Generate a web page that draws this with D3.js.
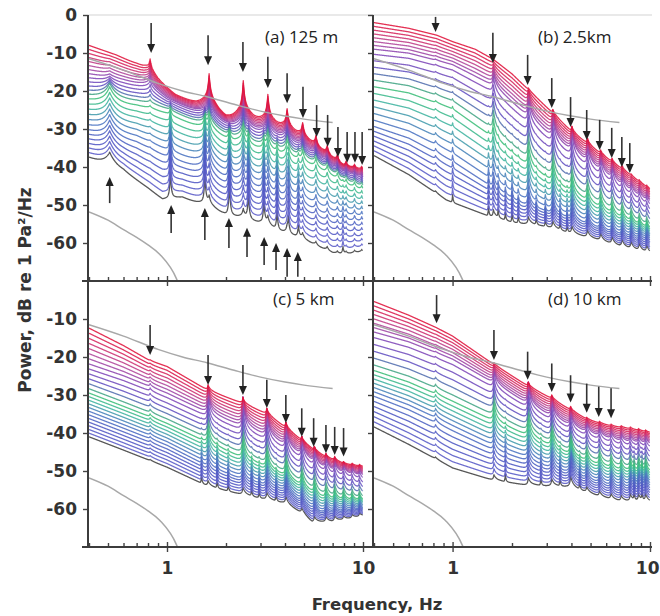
<!DOCTYPE html>
<html>
<head>
<meta charset="utf-8">
<script src="https://cdn.jsdelivr.net/npm/d3@7"></script>
<style>
  body { margin: 0; background: #fff; }
  svg { display: block; }
</style>
</head>
<body>
<svg id="chart" width="660" height="616"></svg>
<script>
// ---- shared values ----
var nCurves = 26;
var keyT = [0, 0.3, 0.5, 0.75, 1];   // position of each key curve in the stack (top .. bottom)
var freqTicks = [0.4, 0.5, 0.6, 0.7, 0.8, 0.9, 1, 2, 3, 4, 5, 6, 7, 8, 9, 10];
var dbTicksTop = [0, -10, -20, -30, -40, -50, -60];
var dbTicksBottom = [-10, -20, -30, -40, -50, -60];

// gray reference curves (same in every panel)
var grayHi = [[0.4,-11.5],[0.6,-14.5],[0.9,-18],[1.2,-20],[1.6,-21.5],[2.2,-23.5],[3,-25.3],[4,-26.6],[5,-27.4],[7,-28.3]];
var grayLo = [[0.4,-51.8],[0.5,-54],[0.6,-56.5],[0.7,-58.5],[0.8,-60.5],[0.92,-63],[1.12,-69.5],[1.15,-71]];

// ---- (a) 125 m ----
var aTop    = [[0.4,-8],[0.55,-10.5],[0.7,-13],[0.78,-14.5],[0.9,-17.5],[1.1,-21],[1.42,-23.5],[1.64,-24.5],[2.0,-27.5],[2.45,-28],[2.9,-29],[3.3,-30],[4.1,-31.5],[5,-34],[6,-37],[7,-39.5],[8,-41.5],[10,-42]];
var aUpper  = [[0.4,-16],[0.6,-17.5],[0.8,-19],[1.0,-22],[1.42,-25.5],[2,-29],[2.9,-31.5],[4,-34],[5,-37],[6,-39.5],[7,-42],[8,-43.5],[10,-44.5]];
var aMid    = [[0.4,-21.5],[0.7,-23],[1.0,-25],[1.5,-29],[2.2,-33],[3,-35.5],[4,-37.5],[5,-39.5],[6,-41.5],[7,-43.5],[8,-45.5],[10,-47]];
var aLower  = [[0.4,-30],[0.7,-33],[1.0,-37],[1.5,-40],[2,-43],[3,-46.5],[4,-49],[5,-51],[6,-53],[7,-54.5],[8,-55.5],[10,-55.5]];
var aBottom = [[0.4,-37.5],[0.6,-41],[0.8,-45.5],[0.95,-48.5],[1.2,-48],[1.5,-50],[2.0,-53],[2.5,-54.5],[3,-55.5],[3.6,-57.5],[4.1,-58.5],[5,-60],[6,-62],[7,-63.5],[8,-64],[10,-63]];
var aHarmF = [0.82, 1.64, 2.45, 3.27, 4.1, 4.92, 5.75, 6.57, 7.4, 8.2, 9.05, 9.85];
var aHarmH = [
  [4, 9, 10.5, 8.5, 6, 4.5, 3.5, 3, 2.5, 2, 1.5, 1.5],
  [3, 7, 8, 7, 6, 5, 4, 3.5, 3, 2.5, 2, 2],
  [1, 5, 6, 6, 5, 4, 3.5, 3, 2.5, 2, 2, 2],
  [0.5, 6, 6, 5, 4, 3, 3, 2.5, 2, 2, 2, 2],
  [0, 3, 3, 3, 2, 2, 1.5, 1.5, 1, 1, 1, 1]
];
var aLowF = [1.04, 1.56, 2.08, 2.6, 3.12, 3.64, 4.16, 4.68, 7.9];
var aLowH = [
  [0, 0, 0, 0, 0, 0, 0, 0, 0],
  [0, 0, 0, 0, 0, 0, 0, 0, 0],
  [1.5, 3, 3, 2, 2, 1.5, 1, 1, 0.5],
  [9, 10, 10, 8, 7, 6, 5, 4, 2],
  [7, 8, 9, 7, 6, 5, 4, 3, 2]
];
var aBumpF = [0.51];
var aBumpH = [[0], [1], [4], [4], [3.5]];
var aDown = [[0.83,-2.1,-10],[1.62,-5.3,-13.2],[2.44,-7.1,-15],[3.27,-11,-19.2],[4.1,-15.3,-23.2],[4.94,-18.9,-27.1],[5.8,-23.7,-32.1],[6.6,-26.3,-34.7],[7.45,-29.5,-37.4],[8.3,-30.8,-38.9],[9.1,-30.8,-38.9],[9.9,-30.8,-39.5]];
var aUp = [[0.51,-49.5,-42.6],[1.05,-57.4,-50],[1.56,-59.2,-50.8],[2.07,-61.3,-53.4],[2.56,-63.7,-56],[3.13,-65.8,-58.4],[3.6,-67.1,-60],[4.1,-68.9,-61.3],[4.65,-68.9,-62.4]];

// ---- (b) 2.5km ----
var bTop    = [[0.4,-2],[0.6,-3.5],[0.83,-5.3],[1.0,-7],[1.3,-9],[1.6,-11.6],[2,-15.5],[2.4,-19.5],[3.18,-25.6],[3.96,-30.5],[4.78,-33.8],[5.56,-36.4],[7,-40.2],[10,-46]];
var bUpper  = [[0.4,-9.5],[0.6,-10.5],[1.0,-13.5],[1.6,-19],[2.4,-27],[3.2,-32.5],[4,-36],[5,-39.5],[7,-45],[10,-50]];
var bMid    = [[0.4,-18],[0.6,-19.5],[1.0,-23.5],[1.6,-31],[2.4,-38.5],[3.2,-43],[4,-46],[5,-49],[7,-53],[10,-56.5]];
var bLower  = [[0.4,-29],[0.6,-32],[1.0,-38],[1.6,-45],[2.4,-50],[3.2,-52],[4,-53.5],[5,-55.5],[7,-58],[10,-60]];
var bBottom = [[0.4,-37],[0.6,-42],[0.93,-48.7],[1.54,-53],[2,-54.5],[3,-55.7],[4,-57.5],[5.4,-59.2],[7,-61],[10,-63]];
var bHarmF = [0.82, 1.61, 2.42, 3.22, 4.02, 4.82, 5.62, 6.42, 7.22, 8.02, 8.82, 9.62];
var bHarmH = [
  [0, 0, 0.5, 1, 1.5, 1.5, 1, 1, 1, 0.5, 0.5, 0.5],
  [0.3, 4, 6, 7, 6, 5, 4, 4, 3, 2, 2, 2],
  [0.5, 5, 6, 6, 5, 4, 3.5, 3, 3, 2.5, 2, 2],
  [1, 4, 5, 5, 5, 4, 3.5, 3, 3, 3, 3, 3],
  [0.5, 2, 2, 2, 2, 2, 2, 2, 2, 2, 2, 2]
];
var bLowF = [1.0, 1.52, 1.7, 1.85, 2.0, 2.15, 2.65, 2.95, 3.5, 3.8];
var bLowH = [
  [0, 0, 0, 0, 0, 0, 0, 0, 0, 0],
  [0, 0, 0, 0, 0, 0, 0, 0, 0, 0],
  [0.5, 0.5, 0.5, 0.5, 0.5, 0.5, 0.5, 0.5, 0.5, 0.5],
  [1.5, 2.5, 1.5, 1.5, 2.5, 1.5, 1.5, 1.5, 1.5, 1.5],
  [2, 2.5, 2, 2, 2.5, 2, 2, 2, 2, 2]
];
var bDown = [[0.82,-0.5,-4.5],[1.6,-4.7,-12.6],[2.4,-10.5,-18.4],[3.18,-16.6,-24.5],[3.96,-21.6,-29.5],[4.78,-25,-32.9],[5.56,-27.6,-35.5],[6.4,-29.7,-37.6],[7.2,-32.1,-40],[7.9,-33.7,-41.6]];

// ---- (c) 5 km ----
var cTop    = [[0.4,-12.4],[0.6,-17],[0.82,-21],[1.0,-22.5],[1.62,-28.8],[2.44,-32.2],[3.23,-35],[4,-38.5],[4.87,-42],[5.6,-44.5],[6.5,-46.5],[8,-48.2],[10,-49]];
var cUpper  = [[0.4,-22.5],[0.6,-25.5],[1.0,-30],[1.62,-35],[2.44,-38.5],[3.23,-41],[4,-43.5],[5,-46.5],[6,-49],[7,-50.5],[10,-52]];
var cMid    = [[0.4,-29],[0.6,-32.5],[1,-37],[1.62,-42],[2.44,-46],[3.23,-48.5],[4,-51],[5,-54],[6,-56.5],[7,-57.5],[10,-58]];
var cLower  = [[0.4,-35],[0.6,-38.5],[1,-43],[1.62,-48.5],[2.44,-52],[3.23,-53.5],[4,-55],[5,-58.5],[6,-61],[7,-61],[10,-60.5]];
var cBottom = [[0.4,-41],[0.6,-44.5],[1.0,-49],[1.62,-54],[2.47,-56.3],[4,-58.5],[5,-61.5],[5.5,-63.5],[7,-63.5],[10,-62]];
var cHarmF = [0.82, 1.62, 2.44, 3.23, 4.04, 4.87, 5.65, 6.47, 7.17, 7.96, 8.8, 9.6];
var cHarmH = [
  [0.3, 1.5, 1.5, 1.5, 1.5, 1, 1, 1, 1, 0.5, 0.5, 0.5],
  [0.8, 6, 8, 7, 6, 5, 4, 3.5, 3, 2.5, 2, 2],
  [0.8, 5, 6, 5, 5, 4, 3.5, 3, 3, 2.5, 2, 2],
  [0.6, 3, 4, 4, 4, 3, 3, 2.5, 2.5, 2, 2, 2],
  [0.3, 1.5, 2, 2, 2, 1.5, 1.5, 1.5, 1.5, 1, 1, 1]
];
var cLowF = [1.5, 1.8, 2.05, 2.7, 2.95, 3.6];
var cLowH = [
  [0, 0, 0, 0, 0, 0],
  [0, 0, 0, 0, 0, 0],
  [0.5, 0.5, 0.5, 0.5, 0.5, 0.5],
  [1.5, 2.5, 1.5, 2.5, 1.5, 1.5],
  [2, 2, 2, 2, 2, 2]
];
var cDown = [[0.82,-11.6,-19.5],[1.62,-19.5,-27.4],[2.44,-22.1,-30],[3.23,-26,-33.4],[4.04,-30,-37.4],[4.87,-33.5,-41],[5.6,-36.1,-43.6],[6.47,-37.9,-45.3],[7.17,-38.4,-45.8],[7.96,-38.7,-46.2]];

// ---- (d) 10 km ----
var dTop    = [[0.4,-5.4],[0.6,-9],[0.83,-12.3],[1.0,-14.5],[1.6,-21.8],[2.4,-27.6],[3.18,-31],[3.96,-34],[4.78,-36.4],[5.5,-37.4],[6.35,-38.2],[8,-39],[10,-40]];
var dUpper  = [[0.4,-14],[0.6,-16.5],[1.0,-21],[1.6,-27],[2.4,-32.5],[3.2,-36],[4,-38.5],[5,-40.5],[7,-42.5],[10,-43.5]];
var dMid    = [[0.4,-23],[0.6,-26],[1.0,-31],[1.6,-36],[2.4,-40],[3.2,-43],[4,-45.5],[5,-47.5],[7,-49.5],[10,-50.5]];
var dLower  = [[0.4,-30],[0.6,-33.5],[1.0,-39],[1.6,-44],[2.4,-47],[3.2,-49],[4,-50.5],[5,-52.5],[7,-54.5],[10,-55]];
var dBottom = [[0.4,-38.4],[0.6,-43],[1.0,-49.2],[1.6,-52.4],[2.37,-53.7],[3.93,-54.2],[5.56,-56.8],[7,-58],[10,-58.4]];
var dHarmF = [0.82, 1.62, 2.42, 3.18, 3.96, 4.78, 5.55, 6.35, 7.15, 7.95, 8.75, 9.5];
var dHarmH = [
  [0, 0.5, 1, 1, 1, 0.5, 0.5, 0.5, 0.5, 0.5, 0.5, 0.5],
  [0.3, 4, 6, 5, 4, 3, 2.5, 2, 2, 2, 2, 2],
  [1, 5, 6, 5, 5, 3, 3, 2.5, 2.5, 3, 3, 3],
  [1.2, 3, 4, 4, 7, 3, 3, 3, 3, 4, 4, 4],
  [0.5, 1.5, 2, 2, 3, 1.5, 1.5, 1.5, 1.5, 2, 2, 2]
];
var dLowF = [1.85, 2.8, 3.5, 4.4, 8.3, 9.1];
var dLowH = [
  [0, 0, 0, 0, 0, 0],
  [0, 0, 0, 0, 0, 0],
  [0.5, 0.5, 0.5, 0.5, 1.5, 1.5],
  [1.5, 1.5, 1.5, 1.5, 3, 3],
  [2, 2, 2, 2, 2, 2]
];
var dDown = [[0.83,-3.7,-11.1],[1.62,-12.9,-20.8],[2.4,-18.6,-26],[3.18,-21.7,-29.2],[3.96,-24.8,-32],[4.78,-27,-34.7],[5.5,-27.8,-35.8],[6.35,-28.2,-36.1]];

// ---- peak shapes: [left width, right width, skirt share, skirt width factor] in log10 units ----
var scallopShape = [0.005, 0.006, 0.6, 7];
var spikeShape   = [0.004, 0.005, 0.15, 5];
var bumpShape    = [0.03, 0.035, 0, 1];
var finShape     = [0.003, 0.01, 0.35, 3.5];
var tickShape    = [0.002, 0.004, 0, 1];

// ---- layout ----
var cols = [{x0: 89, x1: 363}, {x0: 374, x1: 650}];
var rows = [{y0: 15, y1: 281}, {y0: 281, y1: 547}];

var panels = [
  {id: "a", title: "(a) 125 m", col: 0, row: 0, tx: 265, ty: 43,
   keys: [aTop, aUpper, aMid, aLower, aBottom],
   fams: [[aHarmF, aHarmH, scallopShape], [aLowF, aLowH, spikeShape], [aBumpF, aBumpH, bumpShape]],
   arrows: aDown.concat(aUp)},
  {id: "b", title: "(b) 2.5km", col: 1, row: 0, tx: 538, ty: 43,
   keys: [bTop, bUpper, bMid, bLower, bBottom],
   fams: [[bHarmF, bHarmH, finShape], [bLowF, bLowH, tickShape]],
   arrows: bDown},
  {id: "c", title: "(c) 5 km", col: 0, row: 1, tx: 273, ty: 305,
   keys: [cTop, cUpper, cMid, cLower, cBottom],
   fams: [[cHarmF, cHarmH, finShape], [cLowF, cLowH, tickShape]],
   arrows: cDown},
  {id: "d", title: "(d) 10 km", col: 1, row: 1, tx: 548, ty: 305,
   keys: [dTop, dUpper, dMid, dLower, dBottom],
   fams: [[dHarmF, dHarmH, finShape], [dLowF, dLowH, tickShape]],
   arrows: dDown}
];

var colorT = [0, 0.1, 0.2, 0.32, 0.42, 0.5, 0.6, 0.7, 0.85, 0.96, 1];
var colorC = ["#e0143c", "#d42c68", "#b0489c", "#8048b8", "#5c54c4", "#3cc070", "#40b4a0", "#4a78c0", "#5058c4", "#5c5cc8", "#404040"];
var curveColor = d3.scaleLinear().domain(colorT).range(colorC);

var svg = d3.select("#chart");
var logGrid = d3.range(Math.log10(0.4), 1.00001, 0.0012);

function blend(vals, t) {
  var j = Math.min(Math.max(d3.bisectRight(keyT, t) - 1, 0), keyT.length - 2);
  var u = (t - keyT[j]) / (keyT[j + 1] - keyT[j]);
  return vals[j] + (vals[j + 1] - vals[j]) * u;
}

function peakShape(d, sh) {
  var w = d < 0 ? sh[0] : sh[1];
  var a = Math.abs(d);
  return (1 - sh[2]) * Math.exp(-a / w) + sh[2] * Math.exp(-a / (w * sh[3]));
}

// light frame line at 0 dB
svg.append("line")
  .attr("x1", 88).attr("x2", 652).attr("y1", 15).attr("y2", 15)
  .attr("stroke", "#d4d4d4").attr("stroke-width", 1.2);

panels.forEach(function(p) {
  var col = cols[p.col], row = rows[p.row];
  var x = d3.scaleLog().domain([0.4, 10]).range([col.x0, col.x1]);
  var y = d3.scaleLinear().domain([-70, 0]).range([row.y1, row.y0]);

  svg.append("clipPath").attr("id", "clip-" + p.id)
    .append("rect")
    .attr("x", col.x0).attr("y", row.y0)
    .attr("width", col.x1 - col.x0 + 2).attr("height", row.y1 - row.y0);

  var keyScales = p.keys.map(function(pts) {
    return d3.scaleLog()
      .domain(pts.map(function(d) { return d[0]; }))
      .range(pts.map(function(d) { return d[1]; }))
      .clamp(true);
  });

  var logs = logGrid.slice();
  p.fams.forEach(function(fam) {
    fam[0].forEach(function(f) { logs.push(Math.log10(f)); });
  });
  logs.sort(d3.ascending);
  var fs = logs.map(function(l) { return Math.pow(10, l); });
  var baseK = fs.map(function(f) {
    return keyScales.map(function(s) { return s(f); });
  });

  var curves = d3.range(nCurves).map(function(i) {
    var t = i / (nCurves - 1);
    var fams = p.fams.map(function(fam) {
      return {
        f: fam[0],
        h: fam[0].map(function(_, j) {
          return blend(fam[1].map(function(r) { return r[j]; }), t);
        }),
        sh: fam[2]
      };
    });
    var pts = fs.map(function(f, k) {
      var v = blend(baseK[k], t);
      fams.forEach(function(fm) {
        fm.f.forEach(function(f0, j) {
          if (fm.h[j] <= 0) return;
          var d = Math.log10(f / f0);
          if (Math.abs(d) < 0.25) v += fm.h[j] * peakShape(d, fm.sh);
        });
      });
      return [f, v];
    });
    return {t: t, pts: pts};
  });

  var line = d3.line()
    .x(function(d) { return x(d[0]); })
    .y(function(d) { return y(d[1]); });

  var g = svg.append("g").attr("clip-path", "url(#clip-" + p.id + ")");

  g.selectAll("path.spec")
    .data(curves.slice().reverse())
    .enter()
    .append("path")
    .attr("class", "spec")
    .attr("d", function(d) { return line(d.pts); })
    .attr("fill", "none")
    .attr("stroke", function(d) { return curveColor(d.t); })
    .attr("stroke-width", 1.3)
    .attr("stroke-opacity", 0.88)
    .attr("stroke-linejoin", "round");

  var grayLine = d3.line()
    .x(function(d) { return x(d[0]); })
    .y(function(d) { return y(d[1]); })
    .curve(d3.curveMonotoneX);

  g.selectAll("path.ref")
    .data([grayHi, grayLo])
    .enter()
    .append("path")
    .attr("class", "ref")
    .attr("d", grayLine)
    .attr("fill", "none")
    .attr("stroke", "#a8a8a8")
    .attr("stroke-width", 1.5);

  // arrows
  var ag = svg.append("g");
  p.arrows.forEach(function(a) {
    var ax = x(a[0]), y1 = y(a[1]), y2 = y(a[2]);
    var dir = y2 > y1 ? 1 : -1;
    ag.append("line")
      .attr("x1", ax).attr("x2", ax)
      .attr("y1", y1).attr("y2", y2 - dir * 7)
      .attr("stroke", "#333").attr("stroke-width", 1.6);
    ag.append("path")
      .attr("d", "M" + (ax - 4) + "," + (y2 - dir * 9) + "L" + (ax + 4) + "," + (y2 - dir * 9) + "L" + ax + "," + y2 + "Z")
      .attr("fill", "#222");
  });

  // x axis
  var xAxis = d3.axisBottom(x)
    .tickValues(freqTicks)
    .tickSizeInner(-4)
    .tickSizeOuter(0)
    .tickPadding(15)
    .tickFormat(function(d) { return (p.row === 1 && (d === 1 || d === 10)) ? String(d) : ""; });
  var gx = svg.append("g").attr("transform", "translate(0," + row.y1 + ")").call(xAxis);
  gx.select(".domain").remove();
  gx.selectAll(".tick line").attr("stroke", "#444").attr("stroke-width", 1.4);
  gx.selectAll(".tick").filter(function(d) { return d === 1 || d === 10; })
    .select("line").attr("y1", 5).attr("y2", -5);
  gx.selectAll("text")
    .style("font-family", "'DejaVu Sans', sans-serif")
    .style("font-weight", "bold")
    .style("font-size", "17px")
    .attr("fill", "#333");
  if (p.col === 1) {
    // keep the last label inside the page edge
    gx.selectAll(".tick").filter(function(d) { return d === 10; })
      .select("text").attr("text-anchor", "end").attr("x", 9);
  }

  // y axis
  var yAxis = d3.axisLeft(y)
    .tickValues(p.row === 0 ? dbTicksTop : dbTicksBottom)
    .tickSize(5)
    .tickPadding(6)
    .tickFormat(function(d) { return p.col === 0 ? String(d) : ""; });
  var gy = svg.append("g").attr("transform", "translate(" + (col.x0 - 1) + ",0)").call(yAxis);
  gy.select(".domain").remove();
  gy.selectAll(".tick line").attr("stroke", "#444").attr("stroke-width", 1.4);
  gy.selectAll("text")
    .style("font-family", "'DejaVu Sans', sans-serif")
    .style("font-weight", "bold")
    .style("font-size", "17px")
    .attr("fill", "#333");

  // panel title
  svg.append("text")
    .attr("x", p.tx).attr("y", p.ty)
    .style("font-family", "'Open Sans', sans-serif")
    .style("font-size", "17px")
    .attr("fill", "#222")
    .text(p.title);
});

// axis lines
var frame = svg.append("g").attr("stroke", "#3c3c3c").attr("stroke-width", 2);
frame.append("line").attr("x1", 88).attr("x2", 88).attr("y1", 15).attr("y2", 548);
frame.append("line").attr("x1", 373).attr("x2", 373).attr("y1", 15).attr("y2", 548);
frame.append("line").attr("x1", 82).attr("x2", 652).attr("y1", 281).attr("y2", 281);
frame.append("line").attr("x1", 82).attr("x2", 652).attr("y1", 547).attr("y2", 547);

// axis titles
svg.append("text")
  .attr("x", 377).attr("y", 610)
  .attr("text-anchor", "middle")
  .style("font-family", "'DejaVu Sans', sans-serif")
  .style("font-weight", "bold")
  .style("font-size", "16.5px")
  .attr("fill", "#333")
  .text("Frequency, Hz");

svg.append("text")
  .attr("transform", "translate(31,290) rotate(-90)")
  .attr("text-anchor", "middle")
  .style("font-family", "'DejaVu Sans', sans-serif")
  .style("font-weight", "bold")
  .style("font-size", "17px")
  .attr("fill", "#333")
  .text("Power, dB re 1 Pa²/Hz");
</script>
</body>
</html>
